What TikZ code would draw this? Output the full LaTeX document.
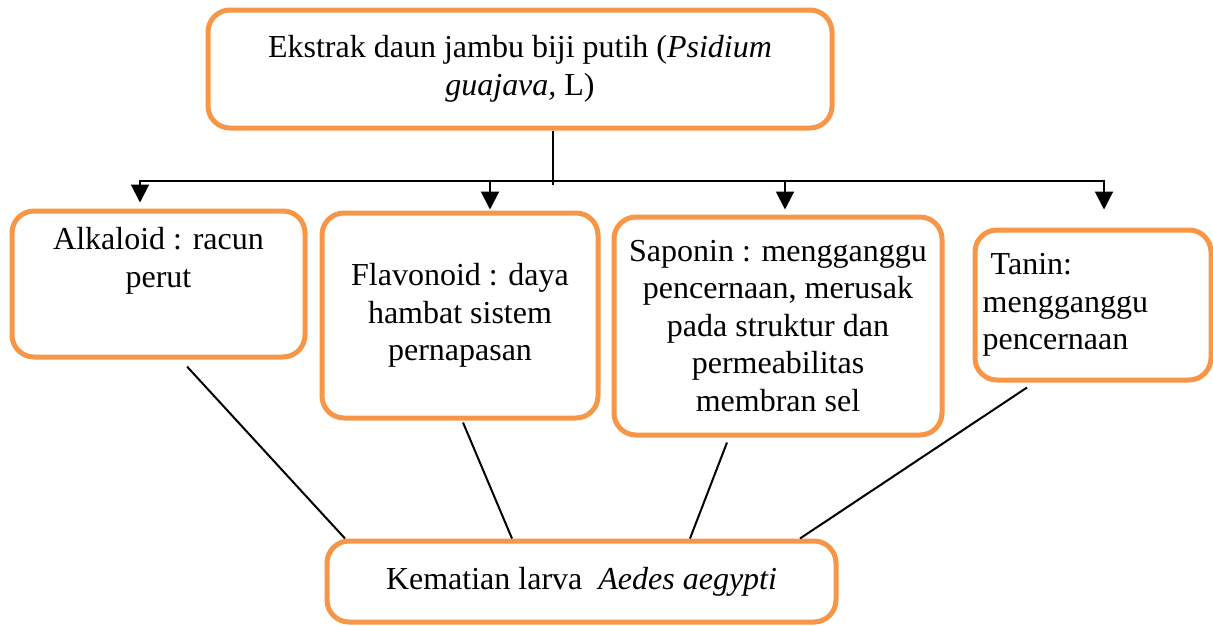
\documentclass[tikz,border=0pt]{standalone}
\usepackage{fontspec}
\setmainfont{Liberation Serif}
\usetikzlibrary{positioning, calc, arrows.meta}
\definecolor{boxorange}{HTML}{F79646}

\begin{document}
\begin{tikzpicture}[
    x=1pt, y=-1pt,
    % Styles
    box/.style={
        rectangle,
        draw=boxorange,
        rounded corners=22pt,
        line width=5pt,
        inner sep=0pt,
        align=center,
        font=\fontsize{32}{37.5}\selectfont
    },
    txt/.style={
        inner sep=0pt,
        align=center,
        font=\fontsize{32}{37.5}\selectfont
    },
    link/.style={
        line width=2pt
    },
    arrow/.style={
        -{Triangle[width=18pt,length=18pt]},
        line width=2pt
    }
]
    \useasboundingbox (0,0) rectangle (1213,625);

    % Boxes
    \node[box, minimum width=624, minimum height=118] (ekstrak) at (520,69)
        {Ekstrak daun jambu biji putih (\textit{Psidium}\\\textit{guajava,} L)};
    \node[box, minimum width=293, minimum height=146] (alkaloid) at (158.5,284) {};
    \node[txt, below=19pt of alkaloid.north] (alkaloidtxt) {Alkaloid : racun\\perut};
    \node[box, minimum width=276, minimum height=205] (flavonoid) at (460,315.5)
        {Flavonoid : daya\\hambat sistem\\pernapasan};
    \node[box, minimum width=328, minimum height=218] (saponin) at (778,326)
        {Saponin : mengganggu\\pencernaan, merusak\\pada struktur dan\\permeabilitas\\membran sel};
    \node[box, minimum width=236, minimum height=150] (tanin) at (1093,305) {};
    \node[txt, align=left, right=10pt of tanin.west] (tanintxt) {\ Tanin:\\mengganggu\\pencernaan};
    \node[box, minimum width=509, minimum height=81] (kematian) at (581.5,581.5)
        {Kematian larva\ \ \textit{Aedes aegypti}};

    % Paths
    \coordinate (split) at ($(ekstrak.south)+(33,50)$);
    \draw[link] (ekstrak.south -| split) -- ($(split)+(0,4)$);
    \draw[arrow, shorten >=6pt] (split) -| ($(alkaloid.north)+(-18.5,0)$);
    \draw[arrow, shorten >=1pt] (split) -| ($(flavonoid.north)+(30,0)$);
    \draw[arrow, shorten >=5pt] (split) -| ($(saponin.north)+(7,0)$);
    \draw[arrow, shorten >=18pt] (split) -| ($(tanin.north)+(11,0)$);

    \draw[link] ($(alkaloid.south)+(28.5,7)$) -- ($(kematian.north)+(-236.5,0)$);
    \draw[link] ($(flavonoid.south)+(3,2)$) -- ($(kematian.north)+(-69.5,0)$);
    \draw[link] ($(saponin.south)+(-51,5)$) -- ($(kematian.north)+(108.5,0)$);
    \draw[link] ($(tanin.south)+(-66,5)$) -- ($(kematian.north)+(218.5,0)$);
\end{tikzpicture}
\end{document}
